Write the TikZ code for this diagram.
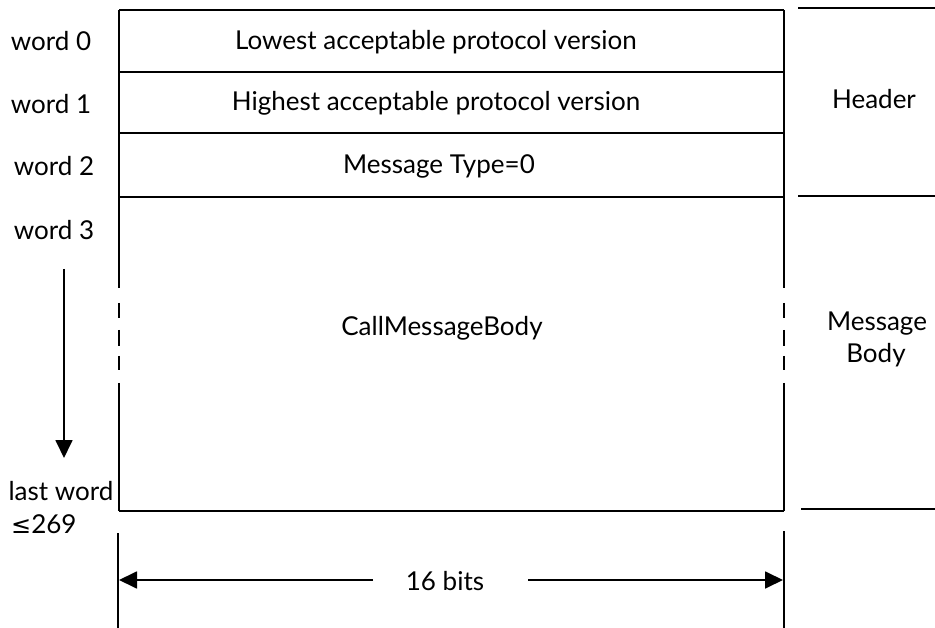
\documentclass[tikz,border=0pt]{standalone}
\usepackage{fontspec}
\setmainfont{Lato}
\newfontfamily\symfont{DejaVu Sans}
\usetikzlibrary{arrows.meta}

\begin{document}
\begin{tikzpicture}[x=1pt,y=-1pt,
  rule/.style={line width=1.8pt},
  lbl/.style={font=\fontsize{26}{30}\selectfont, inner sep=0pt, anchor=base},
  tipend/.style={-{Triangle[length=18pt,width=17pt]}}]
\useasboundingbox (0,0) rectangle (935,628);

% corners of the message frame
\coordinate (tl) at (119,10);
\coordinate (tr) at (784,10);
\coordinate (bl) at (119,511);
\coordinate (br) at (784,511);

% top, bottom and word separators
\draw[rule] (tl) -- (tr);
\draw[rule] (bl) -- (br);
\foreach \y in {72,133,197} \draw[rule] (119,\y) -- (784,\y);

% side borders, broken where the body length varies
\foreach \x in {119,784} {
  \draw[rule] (\x,10) -- (\x,288);
  \draw[rule] (\x,303) -- (\x,318);
  \draw[rule] (\x,330) -- (\x,346);
  \draw[rule] (\x,356) -- (\x,370);
  \draw[rule] (\x,383) -- (\x,511);
}

% field contents
\node[lbl] (f0) at (436,50) {Lowest acceptable protocol version};
\node[lbl] (f1) at (436,111) {Highest acceptable protocol version};
\node[lbl] (f2) at (439,174) {Message Type=0};
\node[lbl] (f3) at (442,336) {CallMessageBody};

% word indices
\node[lbl] (w0) at (51,51) {word 0};
\node[lbl] (w1) at (51,114) {word 1};
\node[lbl] (w2) at (54,176) {word 2};
\node[lbl] (w3) at (54,240) {word 3};
\node[lbl] (wl) at (61,500) {last word};
\node[lbl, anchor=base west] (wmax) at (11,533) {{\symfont\fontsize{24}{26}\selectfont ≤}269};

\coordinate (ds) at (64,269);
\coordinate (de) at (64,458);
\draw[rule,tipend] (ds) -- (de);

% section brackets on the right
\draw[rule] (798,8) -- (935,8);
\draw[rule] (798,196) -- (935,196);
\draw[rule] (801,509) -- (935,509);
\node[lbl] (hdr) at (874,109) {Header};
\node[lbl] (mb1) at (877,331) {Message};
\node[lbl] (mb2) at (876,363) {Body};

% width dimension
\coordinate (wa) at (118,533);
\coordinate (wb) at (118,628);
\coordinate (wc) at (784,531);
\coordinate (wd) at (784,628);
\draw[rule] (wa) -- (wb);
\draw[rule] (wc) -- (wd);
\node[lbl] (bits) at (445,590) {16 bits};
\coordinate (la) at (373,580);
\coordinate (lb) at (119,580);
\coordinate (ra) at (528,580);
\coordinate (rb) at (783,580);
\draw[rule,tipend] (la) -- (lb);
\draw[rule,tipend] (ra) -- (rb);
\end{tikzpicture}
\end{document}
